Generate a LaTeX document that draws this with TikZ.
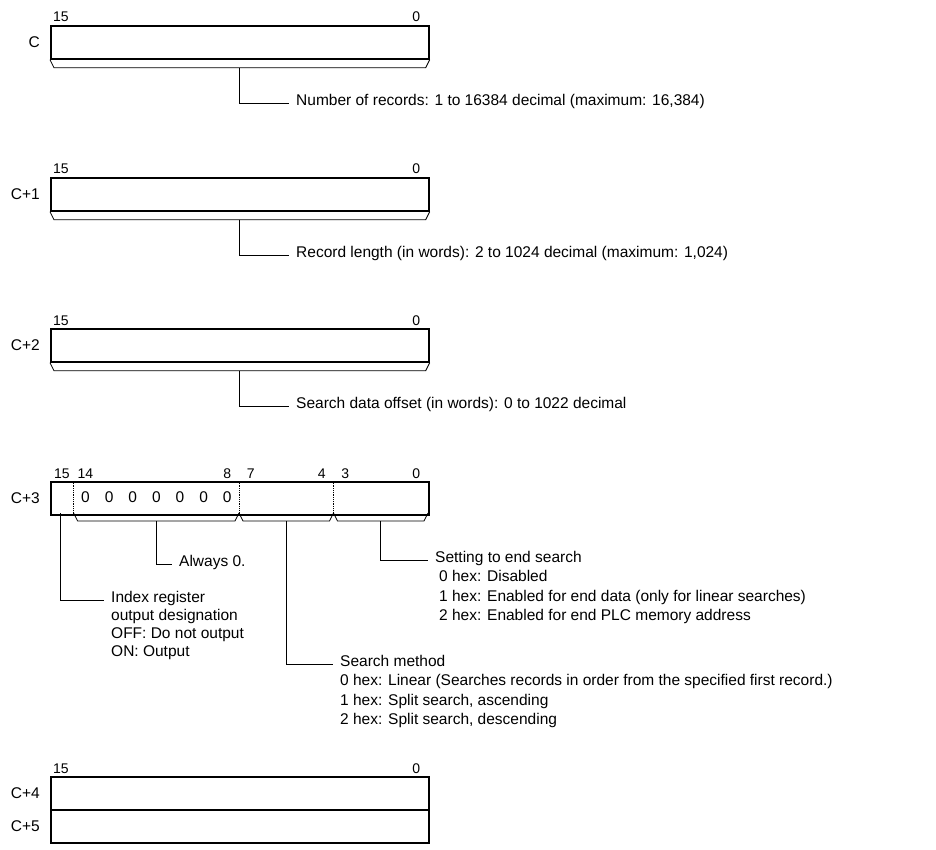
\documentclass[tikz,border=0pt]{standalone}
\usepackage{fontspec}
\setmainfont{Liberation Sans}
\usetikzlibrary{positioning}

\begin{document}
\begin{tikzpicture}[
  x=1pt, y=-1pt,
  font=\fontsize{15.5}{18.5}\selectfont,
  word/.style={draw, line width=1.7pt, minimum width=378pt, minimum height=33pt,
    inner sep=0pt, anchor=north west},
  brace/.style={line width=0.8pt},
  lead/.style={line width=0.8pt},
  divider/.style={densely dotted, line width=0.8pt},
  bitno/.style={font=\fontsize{14}{15}\selectfont, inner sep=0pt, anchor=base},
  addr/.style={anchor=east, inner sep=0pt},
  head/.style={anchor=west, inner xsep=7pt, inner ysep=0pt, text height=11.5pt, text depth=7pt},
  body/.style={anchor=north west, align=left, inner xsep=7pt, inner ysep=0pt},
  wide/.style={font=\fontsize{15.5}{19.5}\selectfont, yshift=-1pt}
]
\useasboundingbox (0,0) rectangle (936,850);

% plain words C, C+1, C+2
\foreach \n/\y/\a/\txt in {
  c/25/C/{Number of records: 1 to 16384 decimal (maximum: 16,384)},
  c1/177/C+1/{Record length (in words): 2 to 1024 decimal (maximum: 1,024)},
  c2/328/C+2/{Search data offset (in words): 0 to 1022 decimal}}{
  \node[word] (\n) at (50,\y) {};
  \node[addr] at ([xshift=-10pt]\n.west) {\a};
  \node[bitno] at (61,{\y-3}) {15};
  \node[bitno] at (416.2,{\y-3}) {0};
  \draw[brace] (\n.south west) -- ++(4,8) -- ([xshift=-4pt,yshift=-8pt]\n.south east) -- (\n.south east);
  \coordinate (\n-b) at ([yshift=-8pt]\n.south);
  \node[head] (\n-t) at (289,{\y+78}) {\txt};
  \draw[lead] (\n-b) |- (\n-t.west);
}

% word C+3, split into fields
\node[word] (c3) at (50,481) {};
\node[addr] at ([xshift=-10pt]c3.west) {C+3};
\foreach \b in {15,14,8,7,4,3,0}
  \node[bitno] at ({50+(15.5-\b)*23.625},478) {\b};
\foreach \b in {14,...,8}
  \node[inner sep=0pt] at ({50+(15.5-\b)*23.625},497) {0};
\coordinate (p14) at (73.6,481);
\coordinate (p7) at (239,481);
\coordinate (p3) at (333.5,481);
\foreach \p in {p14,p7,p3}
  \draw[divider] (\p) -- (\p |- c3.south);

% field braces
\foreach \l/\r/\n in {73.6/239/f1, 239/333.5/f2, 333.5/428/f3}{
  \draw[brace] (\l,513) -- ++(4,8) -- ({\r-4},521) -- (\r,513);
  \coordinate (\n) at ({(\l+\r)/2},521);
}
\coordinate (f0) at (60.5,513);

\node[head] (zero-t) at (172,564) {Always 0.};
\draw[lead] (f1) |- (zero-t.west);

\node[head] (end-t) at (428,560) {Setting to end search};
\node[body, wide, xshift=4pt] (end-d) at (end-t.south west)
  {0 hex: Disabled\\1 hex: Enabled for end data (only for linear searches)\\2 hex: Enabled for end PLC memory address};
\draw[lead] (f3) |- (end-t.west);

\node[head] (idx-t) at (104,600) {Index register};
\node[body, font=\fontsize{15.5}{18}\selectfont] (idx-d) at (idx-t.south west)
  {output designation\\OFF: Do not output\\ON: Output};
\draw[lead] (f0) |- (idx-t.west);

\node[head] (meth-t) at (333,664) {Search method};
\node[body, wide] (meth-d) at (meth-t.south west)
  {0 hex: Linear (Searches records in order from the specified first record.)\\1 hex: Split search, ascending\\2 hex: Split search, descending};
\draw[lead] (f2) |- (meth-t.west);

% words C+4 and C+5
\node[word] (c4) at (50,776) {};
\node[word] (c5) at (50,809) {};
\node[addr] at ([xshift=-10pt]c4.west) {C+4};
\node[addr] at ([xshift=-10pt]c5.west) {C+5};
\node[bitno] at (61,773) {15};
\node[bitno] at (416.2,773) {0};
\end{tikzpicture}
\end{document}
